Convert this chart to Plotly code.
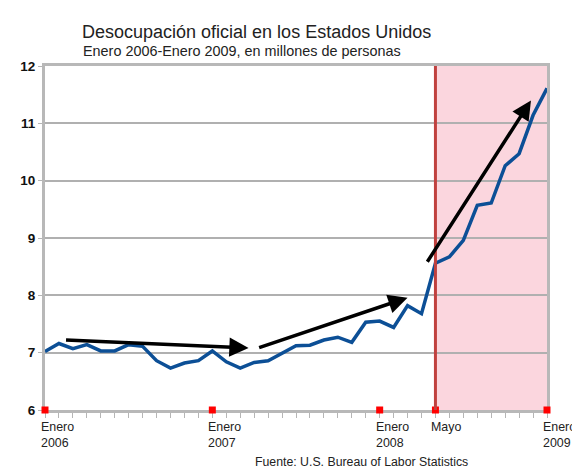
import plotly.graph_objects as go

# meses desde enero 2006 (0) hasta enero 2009 (36)
months = list(range(37))
unemployed = [7.02, 7.16, 7.07, 7.14, 7.03, 7.03, 7.14, 7.11, 6.86, 6.73, 6.82, 6.86,
              7.03, 6.84, 6.73, 6.83, 6.86, 6.99, 7.12, 7.13, 7.22, 7.27, 7.18, 7.53,
              7.55, 7.44, 7.82, 7.68, 8.56, 8.67, 8.96, 9.57, 9.61, 10.26, 10.47, 11.14,
              11.61]

tick_pos = [0, 12, 24, 28, 36]
tick_top = ['Enero', 'Enero', 'Enero', 'Mayo', 'Enero']
tick_bottom = ['2006', '2007', '2008', '', '2009']

recession_start = 28
recession_end = 36

# flechas de tendencia: (x0, y0, x1, y1)
arrows = [
    (1.4, 7.22, 14.6, 7.08),
    (15.25, 7.08, 26.0, 7.96),
    (27.35, 8.56, 34.85, 11.40),
]

FONT = 'Liberation Sans, Arial, sans-serif'

fig = go.Figure()

fig.add_shape(type='rect', xref='x', yref='y', x0=recession_start, x1=recession_end,
              y0=6, y1=12, fillcolor='#fbd6de', line=dict(width=0), layer='below')

fig.add_trace(go.Scatter(
    x=months, y=unemployed, mode='lines',
    line=dict(color='#0c4f96', width=3.5),
    showlegend=False, hoverinfo='x+y',
))

fig.add_shape(type='line', xref='x', yref='y', x0=recession_start, x1=recession_start,
              y0=6, y1=12, line=dict(color='#c0413f', width=3))

# marcas rojas sobre el eje x
fig.add_trace(go.Scatter(
    x=tick_pos, y=[6] * len(tick_pos), mode='markers',
    marker=dict(symbol='square', color='#ff0000', size=7, line=dict(width=0)),
    cliponaxis=False, showlegend=False, hoverinfo='skip',
))

annotations = []
for x0, y0, x1, y1 in arrows:
    annotations.append(dict(
        x=x1, y=y1, ax=x0, ay=y0, xref='x', yref='y', axref='x', ayref='y',
        showarrow=True, arrowhead=2, arrowsize=1.1, arrowwidth=3.5,
        arrowcolor='black', text='',
    ))

for pos, top, bottom in zip(tick_pos, tick_top, tick_bottom):
    annotations.append(dict(x=pos, y=-0.049, xref='x', yref='paper', text=top,
                            showarrow=False, xanchor='left', yanchor='middle', xshift=-6,
                            font=dict(family=FONT, size=12.4, color='#222')))
    if bottom:
        annotations.append(dict(x=pos, y=-0.097, xref='x', yref='paper', text=bottom,
                                showarrow=False, xanchor='left', yanchor='middle', xshift=-6,
                                font=dict(family=FONT, size=12.4, color='#222')))

annotations.append(dict(x=0.075, y=1.1, xref='paper', yref='paper',
                        text='Desocupación oficial en los Estados Unidos',
                        showarrow=False, xanchor='left', yanchor='middle', xshift=-3,
                        font=dict(family=FONT, size=18, color='#222')))
annotations.append(dict(x=0.077, y=1.045, xref='paper', yref='paper',
                        text='Enero 2006-Enero 2009, en millones de personas',
                        showarrow=False, xanchor='left', yanchor='middle', xshift=-3,
                        font=dict(family=FONT, size=14.4, color='#222')))
annotations.append(dict(x=0.63, y=-0.15, xref='paper', yref='paper',
                        text='Fuente: U.S. Bureau of Labor Statistics',
                        showarrow=False, xanchor='center', yanchor='middle',
                        font=dict(family=FONT, size=12.3, color='#222')))

fig.update_layout(
    width=572, height=465,
    margin=dict(l=35, r=33, t=58, b=63),
    paper_bgcolor='white', plot_bgcolor='white',
    font=dict(family=FONT),
    annotations=annotations,
    xaxis=dict(
        range=[0, 36], tickmode='linear', tick0=0, dtick=1,
        showticklabels=False, ticks='outside', ticklen=5, tickcolor='#b5b5b5',
        showgrid=False, zeroline=False, layer='below traces',
        showline=True, linecolor='#b8b8b8', linewidth=3, mirror=True,
    ),
    yaxis=dict(
        range=[6, 12], tickmode='linear', tick0=6, dtick=1,
        ticks='outside', ticklen=4, tickcolor='#b5b5b5',
        tickfont=dict(family=FONT, size=13.5, color='#111', weight='bold'),
        showgrid=True, gridcolor='#b0b0b0', gridwidth=1.5, zeroline=False,
        layer='below traces',
        showline=True, linecolor='#b8b8b8', linewidth=3, mirror=True,
    ),
)

fig.write_html('out.html')
